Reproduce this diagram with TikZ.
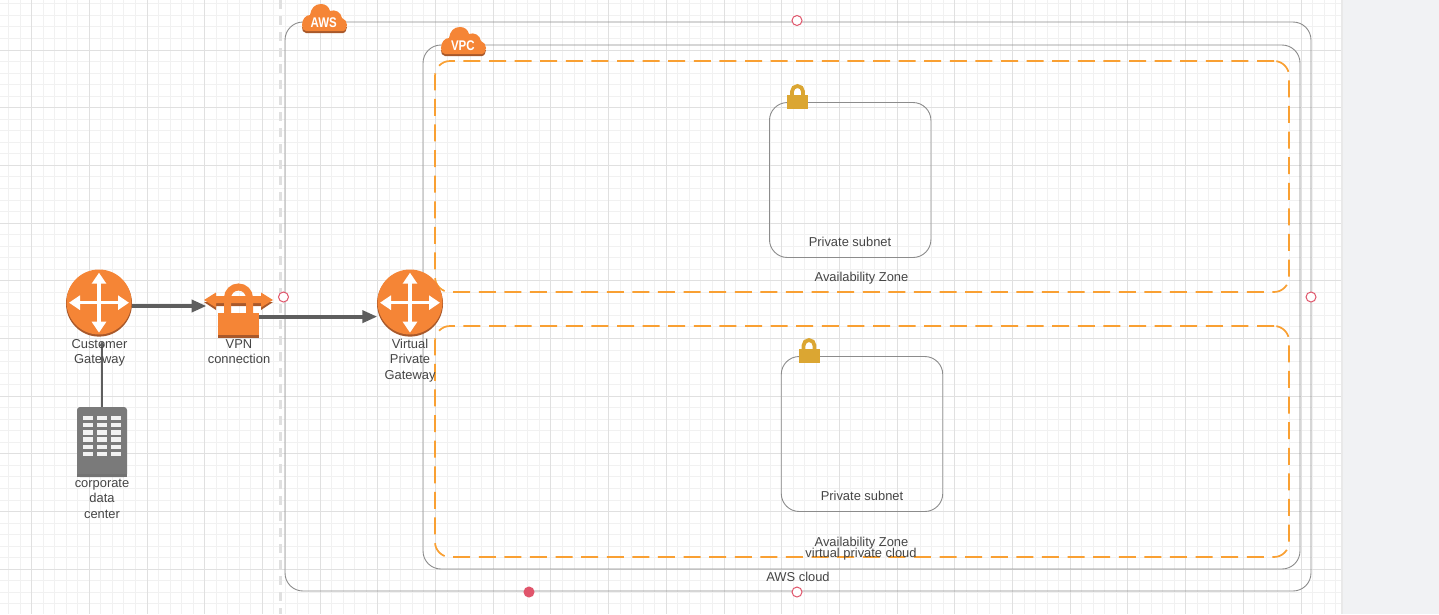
\documentclass[tikz,border=0pt]{standalone}
\usepackage{fontspec}
\setmainfont{Liberation Sans}
\usetikzlibrary{positioning}
\usetikzlibrary{arrows.meta}

\definecolor{awsorange}{HTML}{F58536}
\definecolor{awsdark}{HTML}{A8582A}
\definecolor{zoneline}{HTML}{F9A033}
\definecolor{lockgold}{HTML}{DBA632}
\definecolor{handlered}{HTML}{E0556B}
\definecolor{gridminor}{HTML}{F1F1F1}
\definecolor{gridmajor}{HTML}{E0E0E0}
\definecolor{flowgray}{HTML}{5E5E5E}
\definecolor{boxgray}{HTML}{8C8C8C}
\definecolor{textgray}{HTML}{454545}
\definecolor{dcgray}{HTML}{7A7A7A}
\definecolor{panelgray}{HTML}{F1F2F4}

\tikzset{
  boxline/.style={draw=boxgray, line width=0.9pt, rounded corners=18pt, inner sep=0pt},
  zonebox/.style={draw=zoneline, line width=1.7pt, rounded corners=15pt, inner sep=0pt, dash pattern=on 17pt off 8.6pt},
  flow/.style={draw=flowgray, line width=4pt, -{Triangle[length=15pt,width=12pt]}},
  router/.style={circle, fill=awsorange, minimum size=65pt, inner sep=0pt},
  whitearrow/.style={draw=white, line width=3.4pt, {Triangle[length=11pt,width=14pt]}-{Triangle[length=11pt,width=14pt]}},
  textlabel/.style={text=textgray, font=\fontsize{12.9}{15.4}\selectfont, align=center, inner sep=0pt},
  handle/.style={circle, draw=handlered, fill=white, line width=1pt, minimum size=10pt, inner sep=0pt},
  cloudtext/.style={text=white, font=\bfseries\fontsize{14}{14}\selectfont, xscale=0.82, inner sep=0pt},
  lockbody/.style={fill=lockgold, minimum width=21pt, minimum height=14pt, inner sep=0pt},
}

% router icon with its four white arrows
\newcommand{\routericon}[3]{
  \fill[awsdark] (#2,#3+1.6) circle (33pt);
  \node[router] (#1) at (#2,#3) {};
  \draw[whitearrow] (#2-30,#3+0.7) -- (#2+30,#3+0.7);
  \draw[whitearrow] (#2,#3-29.3) -- (#2,#3+30.7);
}
% cloud badge, x and y give the top left corner
\newcommand{\cloudbadge}[4]{
  \begin{scope}[shift={(#2,#3)}]
  \path[fill=awsdark, yshift=-2pt] (4,27) .. controls (1,27) and (0,24) .. (0,21) -- (45,21) .. controls (45,24) and (43,27) .. (41,27) -- cycle;
  \fill[awsorange] (4,27) .. controls (1,27) and (0,24) .. (0,21) .. controls (0,15) and (4,11) .. (8,11) .. controls (9,4) and (13,0) .. (19,0) .. controls (24,0) and (27,3) .. (28,7) .. controls (33,5) and (39,8) .. (40,14) .. controls (43,15) and (45,18) .. (45,21) .. controls (45,24) and (43,27) .. (41,27) -- cycle;
  \node[cloudtext] (#1) at (21.8,18.5) {#4};
  \end{scope}
}
% padlock above a subnet, x and y give the top left corner
\newcommand{\subnetlock}[3]{
  \draw[lockgold, line width=3.8pt] (#2+5,#3+12) -- (#2+5,#3+6.5) arc[start angle=180, end angle=0, radius=5.5pt] -- (#2+16,#3+12);
  \node[lockbody, anchor=north west] (#1) at (#2,#3+10) {};
}

\begin{document}
\begin{tikzpicture}[x=1pt, y=-1pt]
\useasboundingbox (0,0) rectangle (1439,614);
\fill[white] (0,0) rectangle (1439,614);

% grid
\foreach \i in {0,...,125} {
  \draw[gridminor, line width=1pt] ({\i*11.54-3},0) -- ({\i*11.54-3},614);
}
\foreach \i in {0,...,55} {
  \draw[gridminor, line width=1pt] (0,{\i*11.54-7.7}) -- (1439,{\i*11.54-7.7});
}
\foreach \i in {0,...,25} {
  \draw[gridmajor, line width=1pt] ({\i*57.7+31.6},0) -- ({\i*57.7+31.6},614);
}
\foreach \i in {0,...,11} {
  \draw[gridmajor, line width=1pt] (0,{\i*57.7-7.7}) -- (1439,{\i*57.7-7.7});
}
\fill[gridmajor!70] (1341,0) rectangle (1344,614);
\fill[panelgray] (1343,0) rectangle (1439,614);

\draw[gridmajor, line width=3pt, dash pattern=on 9pt off 7pt] (280.5,0) -- (280.5,614);

% containers
\node[boxline, minimum width=1026pt, minimum height=569pt] (aws) at (798,306.5) {};
\node[boxline, minimum width=877pt, minimum height=524pt] (vpc) at (861.5,307) {};
\node[zonebox, minimum width=854pt, minimum height=231pt] (zone1) at (862,176.5) {};
\node[zonebox, minimum width=854pt, minimum height=231pt] (zone2) at (862,441.5) {};
\node[boxline, minimum width=161.5pt, minimum height=155pt] (subnet1) at (850.2,180) {};
\node[boxline, minimum width=161.5pt, minimum height=155pt] (subnet2) at (862,434) {};

\subnetlock{lock1}{787}{85}
\subnetlock{lock2}{798.5}{339}
\cloudbadge{awsbadge}{302}{4}{AWS}
\cloudbadge{vpcbadge}{441}{27}{VPC}

% gateways
\routericon{cgw}{99}{302}
\routericon{vgw}{410}{302}

% vpn icon
\fill[awsdark] (204,302) -- (216,310) -- (216,306) -- (261,306) -- (261,310) -- (273,302) -- cycle;
\draw[awsorange, line width=7pt] (227.5,313) -- (227.5,298) arc[start angle=180, end angle=0, radius=11pt] -- (249.5,313);
\fill[awsorange] (204,300) -- (216,292.5) -- (216,296) -- (261,296) -- (261,292.5) -- (273,300) -- (261,307.5) -- (261,303) -- (216,303) -- (216,307.5) -- cycle;
\node[fill=awsorange, minimum width=41pt, minimum height=25pt, inner sep=0pt] (vpnbody) at (238.5,325) {};
\fill[awsdark] (vpnbody.south west) ++(0,-3) rectangle (vpnbody.south east);
\coordinate (vpnin) at (206.5,306);

% data center
\node[fill=dcgray, minimum width=50pt, minimum height=70pt, rounded corners=3pt, inner sep=0pt] (dcenter) at (102,442) {};
\fill[black!55!white] (dcenter.south west) ++(0,-3) rectangle (dcenter.south east);
\foreach \r in {0,...,5} {
  \foreach \c in {0,1,2} {
    \fill[white!95!black] ({83.4+\c*14},{415.8+\r*7.2}) rectangle ++(10,4.4);
  }
}

% connectors
\draw[flow] (cgw.east |- vpnin) -- (vpnin);
\draw[flow] (vpnbody.22) -- (vpnbody.22 -| vgw.west);
\draw[flowgray, line width=1.2pt, shorten >=6.5pt, -{Triangle[length=5pt,width=5pt]}] (dcenter.north) -- (dcenter.north |- cgw.south);

% labels
\node[textlabel] (cgwlabel) at (99.5,353) {Customer\\Gateway};
\node[textlabel] (vpnlabel) at (239,351.5) {VPN\\connection};
\node[textlabel] (vgwlabel) at (410,360.5) {Virtual\\Private\\Gateway};
\node[textlabel] (dclabel) at (102,498.8) {corporate\\data\\center};
\node[textlabel] (subnet1label) at (850,242) {Private subnet};
\node[textlabel] (subnet2label) at (862,496) {Private subnet};
\node[textlabel] (zone1label) at (861.5,278) {Availability Zone};
\node[textlabel] (zone2label) at (861.5,543) {Availability Zone};
\node[textlabel] (vpclabel) at (861,554.5) {virtual private cloud};
\node[textlabel] (awslabel) at (798,577) {AWS cloud};

% selection handles
\node[handle] (handletop) at (797,20.5) {};
\node[handle] (handleleft) at (283.5,297) {};
\node[handle] (handleright) at (1311,297) {};
\node[handle] (handlebottom) at (797,592) {};
\node[handle, fill=handlered] (handlemark) at (529,592) {};
\end{tikzpicture}
\end{document}
